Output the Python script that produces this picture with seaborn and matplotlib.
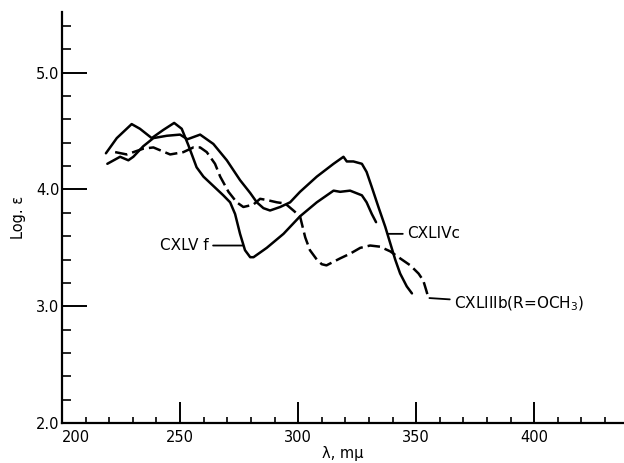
import numpy as np
import pandas as pd
import matplotlib
matplotlib.use('Agg')
import matplotlib.pyplot as plt
from matplotlib.ticker import MultipleLocator
import seaborn as sns

# values (wavelength in m\u03bc, log epsilon)
wavelength_cxlvf = [218.6, 223.2, 229.5, 233.0, 238.0, 242.9, 247.5, 250.7, 253.5, 257.0,
                    259.9, 264.1, 268.3, 271.2, 273.3, 275.4, 277.5, 279.7, 281.1, 286.7,
                    293.8, 300.8, 307.9, 315.0, 317.8, 322.0, 327.0, 329.0, 331.2, 333.0]
log_eps_cxlvf = [4.31, 4.44, 4.56, 4.52, 4.44, 4.51, 4.57, 4.52, 4.38, 4.19,
                 4.11, 4.03, 3.95, 3.89, 3.79, 3.62, 3.48, 3.42, 3.42, 3.50,
                 3.62, 3.77, 3.89, 3.99, 3.98, 3.99, 3.95, 3.89, 3.79, 3.72]

wavelength_cxlivc = [219.2, 224.6, 228.1, 230.2, 234.4, 238.7, 244.4, 250.0, 253.1, 258.5,
                     264.1, 269.8, 275.4, 279.7, 282.5, 285.3, 288.1, 292.4, 296.6, 300.8,
                     307.9, 315.0, 319.2, 320.6, 323.4, 327.0, 329.0, 331.2, 334.0, 336.9,
                     339.0, 341.1, 343.2, 346.0, 348.2]
log_eps_cxlivc = [4.22, 4.28, 4.25, 4.28, 4.37, 4.44, 4.46, 4.47, 4.43, 4.47,
                  4.39, 4.25, 4.08, 3.97, 3.89, 3.84, 3.82, 3.85, 3.89, 3.98,
                  4.11, 4.22, 4.28, 4.24, 4.24, 4.22, 4.15, 4.02, 3.85, 3.68,
                  3.54, 3.40, 3.28, 3.17, 3.11]

wavelength_cxliiib = [222.5, 227.4, 234.5, 238.7, 245.8, 251.4, 255.6, 258.5, 261.3, 264.8,
                      267.0, 270.5, 274.0, 276.8, 281.0, 283.9, 286.7, 291.0, 294.5, 298.0,
                      300.8, 303.0, 305.0, 307.9, 310.0, 312.0, 317.8, 322.0, 326.3, 330.5,
                      334.7, 339.0, 343.2, 347.5, 351.0, 353.0, 354.2, 355.2]
log_eps_cxliiib = [4.32, 4.30, 4.35, 4.36, 4.30, 4.32, 4.36, 4.36, 4.32, 4.22,
                   4.11, 3.98, 3.89, 3.85, 3.87, 3.92, 3.91, 3.89, 3.88, 3.82,
                   3.77, 3.59, 3.48, 3.40, 3.36, 3.35, 3.41, 3.45, 3.50, 3.52,
                   3.51, 3.47, 3.41, 3.35, 3.28, 3.22, 3.14, 3.07]

x_ticks = [200, 250, 300, 350, 400]
y_ticks = [2.0, 3.0, 4.0, 5.0]
y_tick_labels = ['2.0', '3.0', '4.0', '5.0']


def build_spectra_df():
    frames = [
        pd.DataFrame({'wavelength': wavelength_cxlvf, 'log_eps': log_eps_cxlvf, 'compound': 'CXLVf'}),
        pd.DataFrame({'wavelength': wavelength_cxlivc, 'log_eps': log_eps_cxlivc, 'compound': 'CXLIVc'}),
        pd.DataFrame({'wavelength': wavelength_cxliiib, 'log_eps': log_eps_cxliiib, 'compound': 'CXLIIIb'}),
    ]
    return pd.concat(frames, ignore_index=True)


def plot_spectra(df):
    sns.set_style('ticks')
    plt.rcParams['font.family'] = ['DejaVu Sans']
    # seaborn greys -> plain black like the printed figure
    for key in ['text.color', 'axes.labelcolor', 'xtick.color', 'ytick.color', 'axes.edgecolor']:
        plt.rcParams[key] = 'black'

    fig = plt.figure(figsize=(6.24, 4.63), dpi=100)
    ax = fig.add_axes([62 / 624, 40 / 463, 562 / 624, 411 / 463])

    sns.lineplot(data=df, x='wavelength', y='log_eps', style='compound', color='black',
                 dashes={'CXLVf': '', 'CXLIVc': '', 'CXLIIIb': (5, 2)},
                 estimator=None, linewidth=1.8, legend=False, ax=ax)

    ax.set_xlim(200, 438)
    ax.set_ylim(2.0, 5.52)
    ax.set_xticks(x_ticks)
    ax.set_yticks(y_ticks)
    ax.set_yticklabels(y_tick_labels)
    ax.xaxis.set_minor_locator(MultipleLocator(10))
    ax.yaxis.set_minor_locator(MultipleLocator(0.2))

    ax.tick_params(axis='x', which='major', direction='in', length=15, width=1.4,
                   labelsize=10.5, pad=5)
    ax.tick_params(axis='x', which='minor', direction='in', length=4.5, width=1.2)
    ax.tick_params(axis='y', which='major', direction='in', length=18, width=1.4,
                   labelsize=10.5, pad=2)
    ax.tick_params(axis='y', which='minor', direction='in', length=6.5, width=1.2)
    # the 200 label sits just right of the corner, clear of the 2.0 label
    ax.get_xticklabels()[0].set_horizontalalignment('left')

    for side in ['top', 'right']:
        ax.spines[side].set_visible(False)
    for side in ['left', 'bottom']:
        ax.spines[side].set_linewidth(1.6)

    ax.set_xlabel('\u03bb, m\u03bc', fontsize=10.5, labelpad=1)
    ax.set_ylabel('Log. \u03b5', fontsize=10.5, labelpad=7)

    line_kw = dict(arrowstyle='-', color='black', lw=1.3, shrinkA=1, shrinkB=0)
    ax.annotate('CXLV f', xy=(276.6, 3.52), xytext=(262, 3.52), ha='right', va='center',
                fontsize=11, arrowprops=line_kw)
    ax.annotate('CXLIVc', xy=(338.0, 3.62), xytext=(346.3, 3.62), ha='left', va='center',
                fontsize=11, arrowprops=line_kw)
    ax.annotate('CXLIIIb(R=OCH$_3$)', xy=(355.6, 3.07), xytext=(366.2, 3.02), ha='left',
                va='center', fontsize=11, arrowprops=line_kw)
    return fig


df = build_spectra_df()
fig = plot_spectra(df)
fig.savefig('out.png', dpi=100)
